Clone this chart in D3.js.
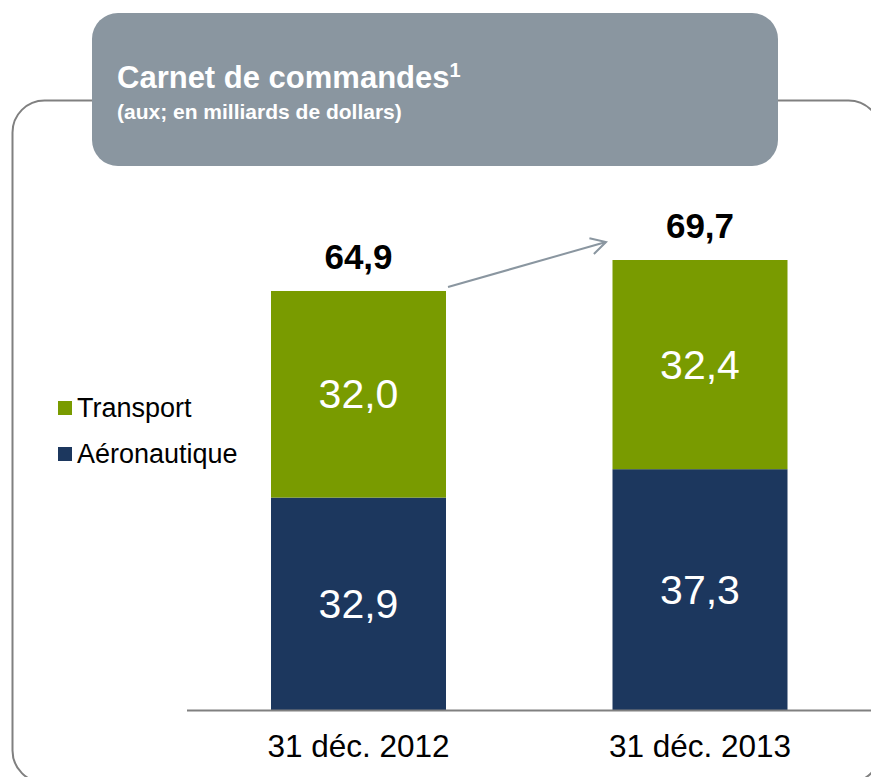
<!DOCTYPE html>
<html>
<head>
<meta charset="utf-8">
<script src="https://cdn.jsdelivr.net/npm/d3@7"></script>
<style>
  body { margin: 0; background: #fff; }
  svg { display: block; font-family: "Liberation Sans", Arial, sans-serif; }
</style>
</head>
<body>
<div id="chart"></div>
<script>
// Data
var categories = ["31 déc. 2012", "31 déc. 2013"];
var aeronautique = [32.9, 37.3];
var transport = [32.0, 32.4];
var totals = [64.9, 69.7];
var seriesNames = ["Transport", "Aéronautique"];

var width = 871, height = 777;
var colors = {"Transport": "#799b00", "Aéronautique": "#1c375e"};
var fmt = v => d3.format(".1f")(v).replace(".", ",");

var svg = d3.select("#chart").append("svg")
    .attr("width", width)
    .attr("height", height);

// Outer frame (runs off the right and bottom edges)
svg.append("rect")
    .attr("x", 12.5).attr("y", 100.5)
    .attr("width", 868).attr("height", 682)
    .attr("rx", 32).attr("ry", 32)
    .attr("fill", "none")
    .attr("stroke", "#808080")
    .attr("stroke-width", 2);

// Header box
svg.append("rect")
    .attr("x", 92).attr("y", 13)
    .attr("width", 686).attr("height", 153)
    .attr("rx", 26).attr("ry", 26)
    .attr("fill", "#8a96a0");

var title = svg.append("text")
    .attr("x", 117).attr("y", 88)
    .attr("fill", "#fff")
    .attr("font-weight", "bold")
    .attr("font-size", 31);
title.append("tspan").text("Carnet de commandes");
title.append("tspan").attr("dy", -11).attr("font-size", 20).text("1");

svg.append("text")
    .attr("x", 117).attr("y", 119)
    .attr("fill", "#fff")
    .attr("font-weight", "bold")
    .attr("font-size", 21)
    .text("(aux; en milliards de dollars)");

// Scales
var x = d3.scalePoint().domain(categories).range([358.5, 700]);
var barW = 175;

var y = d3.scaleLinear()
    .domain([0, 69.7])
    .range([710, 260]);

var stack = categories.map((c, i) => ({
    cat: c,
    segs: [
        {name: "Aéronautique", y0: 0, y1: aeronautique[i], v: aeronautique[i]},
        {name: "Transport", y0: aeronautique[i], y1: aeronautique[i] + transport[i], v: transport[i]}
    ],
    total: totals[i]
}));

var g = svg.append("g");
stack.forEach(s => {
    s.segs.forEach(seg => {
        g.append("rect")
            .attr("x", x(s.cat) - barW / 2)
            .attr("y", y(seg.y1))
            .attr("width", barW)
            .attr("height", y(seg.y0) - y(seg.y1))
            .attr("fill", colors[seg.name]);
        g.append("text")
            .attr("x", x(s.cat))
            .attr("y", (y(seg.y0) + y(seg.y1)) / 2 + 14)
            .attr("text-anchor", "middle")
            .attr("fill", "#fff")
            .attr("font-size", 41)
            .text(fmt(seg.v));
    });
    g.append("text")
        .attr("x", x(s.cat))
        .attr("y", y(s.total) - 22)
        .attr("text-anchor", "middle")
        .attr("font-weight", "bold")
        .attr("font-size", 35)
        .attr("fill", "#000")
        .text(fmt(s.total));
});

// Axis baseline
svg.append("line")
    .attr("x1", 187).attr("x2", 871)
    .attr("y1", 710.5).attr("y2", 710.5)
    .attr("stroke", "#808080")
    .attr("stroke-width", 2);

// Category labels
svg.selectAll(".cat")
    .data(categories)
    .join("text")
    .attr("x", d => x(d))
    .attr("y", 757)
    .attr("text-anchor", "middle")
    .attr("font-size", 31.5)
    .attr("fill", "#000")
    .text(d => d);

// Growth arrow
var ax0 = x(categories[0]) + barW / 2 + 2, ay0 = y(totals[0]) - 4;
var ax1 = 606, ay1 = 242;
svg.append("line")
    .attr("x1", ax0).attr("y1", ay0)
    .attr("x2", ax1).attr("y2", ay1)
    .attr("stroke", "#8a96a0").attr("stroke-width", 2);
var ang = Math.atan2(ay1 - ay0, ax1 - ax0);
var hl = 17, ha = 0.5;
svg.append("path")
    .attr("d", "M" + (ax1 - hl * Math.cos(ang - ha)) + "," + (ay1 - hl * Math.sin(ang - ha)) +
        " L" + ax1 + "," + ay1 +
        " L" + (ax1 - hl * Math.cos(ang + ha)) + "," + (ay1 - hl * Math.sin(ang + ha)))
    .attr("fill", "none").attr("stroke", "#8a96a0").attr("stroke-width", 2);

// Legend
var legend = svg.append("g");
seriesNames.forEach((n, i) => {
    var ly = 401 + i * 46;
    legend.append("rect")
        .attr("x", 58).attr("y", ly)
        .attr("width", 14).attr("height", 14)
        .attr("fill", colors[n]);
    legend.append("text")
        .attr("x", 77).attr("y", ly + 16)
        .attr("font-size", 27)
        .attr("fill", "#000")
        .text(n);
});
</script>
</body>
</html>
